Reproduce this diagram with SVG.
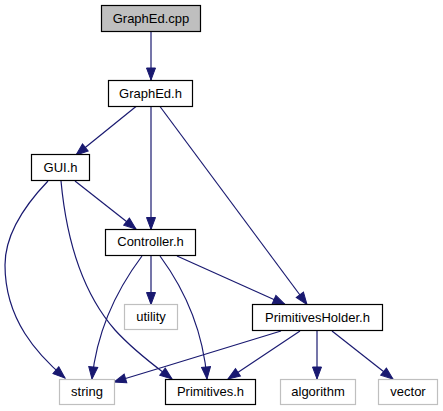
<svg xmlns="http://www.w3.org/2000/svg" width="443" height="411" viewBox="0 0 443 411">
<style>
.n rect{fill:#ffffff;stroke:#000000;stroke-width:1.2}
.n.ext rect{stroke:#bfbfbf}
.n.root rect{fill:#bfbfbf}
.n text{font-family:"Liberation Sans",Arial,sans-serif;font-size:13px;fill:#000000;text-anchor:middle}
#edges path{fill:none;stroke:#191970;stroke-width:1.2;marker-end:url(#ah)}
</style>
<defs>
<marker id="ah" markerUnits="userSpaceOnUse" markerWidth="14" markerHeight="11" viewBox="0 0 14 11" refX="13" refY="5.5" orient="auto">
<path d="M1,1 L13,5.5 L1,10 z" fill="#191970" stroke="#191970" stroke-width="1"/>
</marker>
</defs>
<rect width="443" height="411" fill="#ffffff"/>
<g id="edges">
<path d="M151,31.5 L151,80"/>
<path d="M136,106.5 L76,155"/>
<path d="M151,106.5 L151,229.5"/>
<path d="M160,106.5 L307,304.5"/>
<path d="M48,181 C25,205 5,235 5,265 C5,320 38,355 65,378"/>
<path d="M61,181 C66,235 80,290 115,330 C135,352 155,366 172,379"/>
<path d="M75,181 L136,229"/>
<path d="M151,256 L151,304.5"/>
<path d="M142,256 C118,288 97,330 92,379"/>
<path d="M160,256 C185,290 203,330 207,379"/>
<path d="M177,256 L285,304.5"/>
<path d="M281,331 C230,347 170,365 114,382"/>
<path d="M300,331 L228,379"/>
<path d="M317,331 L317,379"/>
<path d="M332,331 L393,379"/>
</g>
<g id="GraphEd_cpp" class="n root"><rect x="101.5" y="5.5" width="99" height="26"/><text x="151" y="22.5">GraphEd.cpp</text></g>
<g id="GraphEd_h" class="n"><rect x="108.5" y="80.5" width="84" height="26"/><text x="150.5" y="97.5">GraphEd.h</text></g>
<g id="GUI_h" class="n"><rect x="31.5" y="154.5" width="58" height="26"/><text x="60.5" y="171.5">GUI.h</text></g>
<g id="Controller_h" class="n"><rect x="105.5" y="229.5" width="90" height="26"/><text x="150.5" y="246">Controller.h</text></g>
<g id="utility" class="n ext"><rect x="124.5" y="304.5" width="53" height="25"/><text x="151" y="321">utility</text></g>
<g id="PrimitivesHolder_h" class="n"><rect x="252.5" y="304.5" width="130" height="26"/><text x="317.5" y="321.5">PrimitivesHolder.h</text></g>
<g id="string" class="n ext"><rect x="59.5" y="379.5" width="55" height="25"/><text x="87" y="396">string</text></g>
<g id="Primitives_h" class="n"><rect x="165.5" y="379.5" width="90" height="25"/><text x="210.5" y="396">Primitives.h</text></g>
<g id="algorithm" class="n ext"><rect x="280.5" y="379.5" width="75" height="25"/><text x="318" y="396">algorithm</text></g>
<g id="vector" class="n ext"><rect x="378.5" y="379.5" width="59" height="25"/><text x="408" y="396">vector</text></g>
</svg>
